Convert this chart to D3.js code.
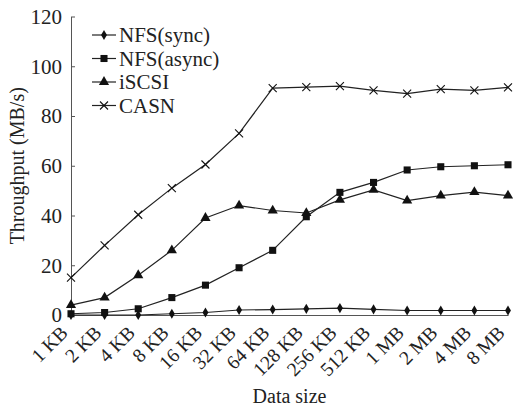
<!DOCTYPE html>
<html>
<head>
<meta charset="utf-8">
<script src="https://cdn.jsdelivr.net/npm/d3@7"></script>
<style>
  body { margin: 0; background: #fff; }
  svg text { font-family: 'Liberation Serif', 'Times New Roman', 'DejaVu Serif', serif; fill: #222; }
</style>
</head>
<body>
<div class="container"></div>
<script>
var categories = ['1 KB', '2 KB', '4 KB', '8 KB', '16 KB', '32 KB', '64 KB', '128 KB', '256 KB', '512 KB', '1 MB', '2 MB', '4 MB', '8 MB'];
var nfsSync = [0, 0, 0, 0.5, 1, 2, 2.2, 2.5, 2.8, 2.3, 1.8, 1.8, 1.8, 1.8];
var nfsAsync = [0.5, 1, 2.5, 7, 12, 19, 26, 39.5, 49.3, 53.3, 58.3, 59.6, 60, 60.4];
var iscsi = [4, 7, 16, 26, 39, 44, 42, 41, 46.3, 50.3, 46, 48, 49.4, 48];
var casn = [15, 28, 40.3, 51, 60.5, 73, 91.2, 91.6, 92, 90.3, 89, 90.8, 90.3, 91.5];
var yTicks = [0, 20, 40, 60, 80, 100, 120];
var seriesNames = ['NFS(sync)', 'NFS(async)', 'iSCSI', 'CASN'];

var drawChart = function () {
    var WIDTH = 515, HEIGHT = 408;
    var LEFT = 71, RIGHT = 508, TOP = 16.5, BOTTOM = 315;
    var FONT = "'Liberation Serif', 'Times New Roman', serif";

    var series = [
        {name: seriesNames[0], values: nfsSync, marker: 'diamond'},
        {name: seriesNames[1], values: nfsAsync, marker: 'square'},
        {name: seriesNames[2], values: iscsi, marker: 'triangle'},
        {name: seriesNames[3], values: casn, marker: 'cross'}
    ];

    var xScale = d3.scalePoint().domain(categories).range([LEFT, RIGHT]);
    var yScale = d3.scaleLinear().domain([0, 120]).range([BOTTOM, TOP]);

    var svg = d3.select('.container').append('svg')
        .attr('width', WIDTH).attr('height', HEIGHT)
        .attr('font-family', FONT);

    // y axis, ticks point inward
    var yAxis = d3.axisRight(yScale).tickValues(yTicks).tickSize(4).tickSizeOuter(0).tickFormat('');
    var yg = svg.append('g').attr('transform', 'translate(' + LEFT + ',0)').call(yAxis);
    yg.select('.domain').attr('stroke', '#555').attr('stroke-width', 1);
    yg.selectAll('.tick line').attr('stroke', '#555');
    yg.selectAll('.tick').filter(function (d) { return d === 0; }).select('line').remove();

    svg.selectAll('.ylabel').data(yTicks).enter().append('text')
        .attr('x', 62).attr('y', function (d) { return yScale(d); })
        .attr('dy', '0.35em').attr('text-anchor', 'end')
        .attr('font-family', FONT)
        .style('font-size', '21px').text(function (d) { return d; });

    // x axis
    var xAxis = d3.axisBottom(xScale).tickSize(0).tickFormat('');
    var xg = svg.append('g').attr('transform', 'translate(0,' + BOTTOM + ')').call(xAxis);
    xg.select('.domain').attr('stroke', '#555').attr('stroke-width', 1.2);

    svg.selectAll('.xlabel').data(categories).enter().append('text')
        .attr('text-anchor', 'end')
        .attr('transform', function (d) { return 'translate(' + (xScale(d) - 2) + ',' + (BOTTOM + 19) + ') rotate(-45)'; })
        .attr('font-family', FONT)
        .style('font-size', '19.5px').text(function (d) { return d; });

    svg.append('text').attr('x', (LEFT + RIGHT) / 2).attr('y', 403)
        .attr('text-anchor', 'middle').attr('font-family', FONT)
        .style('font-size', '20px').text('Data size');

    svg.append('text').attr('transform', 'translate(24,' + ((TOP + BOTTOM) / 2) + ') rotate(-90)')
        .attr('text-anchor', 'middle').attr('font-family', FONT)
        .style('font-size', '20px').text('Throughput (MB/s)');

    var line = d3.line()
        .x(function (d, i) { return xScale(categories[i]); })
        .y(function (d) { return yScale(d); });

    var drawMarker = function (g, type) {
        if (type === 'diamond') {
            g.append('path').attr('d', d3.symbol(d3.symbolDiamond, 30)()).attr('fill', '#111');
        } else if (type === 'square') {
            g.append('path').attr('d', d3.symbol(d3.symbolSquare, 50)()).attr('fill', '#111');
        } else if (type === 'triangle') {
            g.append('path').attr('d', d3.symbol(d3.symbolTriangle, 45)()).attr('fill', '#111');
        } else {
            g.append('path').attr('d', 'M-4,-4L4,4M-4,4L4,-4').attr('stroke', '#111').attr('stroke-width', 1.1).attr('fill', 'none');
        }
    };

    series.forEach(function (s) {
        svg.append('path').attr('d', line(s.values))
            .attr('fill', 'none').attr('stroke', '#222').attr('stroke-width', 1.2);
        s.values.forEach(function (v, i) {
            var g = svg.append('g').attr('transform', 'translate(' + xScale(categories[i]) + ',' + yScale(v) + ')');
            drawMarker(g, s.marker);
        });
    });

    // legend
    var legend = svg.append('g');
    series.forEach(function (s, i) {
        var y = 35 + i * 23.5;
        legend.append('line').attr('x1', 92).attr('x2', 116).attr('y1', y).attr('y2', y)
            .attr('stroke', '#222').attr('stroke-width', 1.2);
        var g = legend.append('g').attr('transform', 'translate(104,' + y + ')');
        drawMarker(g, s.marker);
        legend.append('text').attr('x', 119).attr('y', y).attr('dy', '0.35em')
            .attr('font-family', FONT)
            .style('font-size', '21px').text(s.name);
    });
};

window.onload = drawChart;
</script>
</body>
</html>
